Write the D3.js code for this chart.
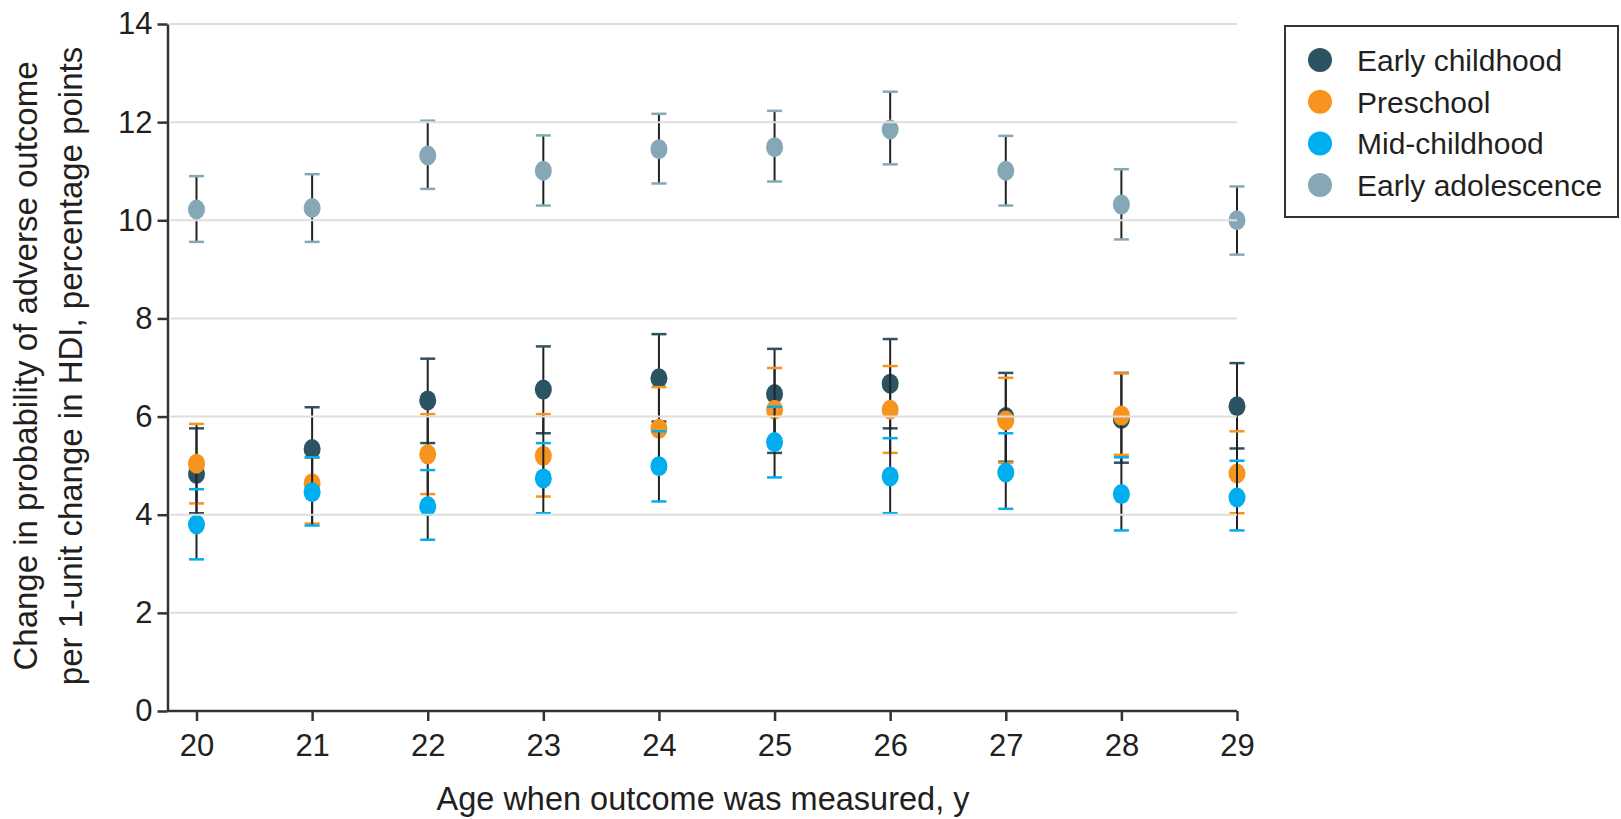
<!DOCTYPE html>
<html lang="en">

<head>
    <meta charset="UTF-8">
    <title>Change in probability of adverse outcome by age</title>
    <style>
        body {
            margin: 0;
            padding: 0;
            background: #fff;
        }

        svg {
            display: block;
        }

        text {
            font-family: "Liberation Sans", Arial, sans-serif;
            fill: #231f20;
        }
    </style>
</head>

<body>

    <svg width="1621" height="819"></svg>

    <script src="https://d3js.org/d3.v7.min.js"></script>
    <script>
        // Data (percentage points)
        const ages = [20, 21, 22, 23, 24, 25, 26, 27, 28, 29];
        const yTicks = [0, 2, 4, 6, 8, 10, 12, 14];

        const earlyChildhood = [4.83, 5.34, 6.33, 6.55, 6.78, 6.46, 6.67, 5.99, 5.95, 6.21];
        const earlyChildhoodLow = [4.03, 4.49, 5.46, 5.66, 5.90, 5.26, 5.76, 5.08, 5.06, 5.35];
        const earlyChildhoodHigh = [5.76, 6.19, 7.18, 7.43, 7.68, 7.38, 7.58, 6.89, 6.89, 7.09];

        const preschool = [5.04, 4.64, 5.23, 5.20, 5.75, 6.14, 6.14, 5.92, 6.02, 4.84];
        const preschoolLow = [4.23, 3.82, 4.42, 4.37, 4.93, 5.40, 5.26, 5.06, 5.22, 4.03];
        const preschoolHigh = [5.85, 5.16, 6.05, 6.05, 6.60, 6.99, 7.03, 6.79, 6.88, 5.70];

        const midChildhood = [3.80, 4.46, 4.17, 4.74, 4.99, 5.48, 4.78, 4.86, 4.42, 4.35];
        const midChildhoodLow = [3.09, 3.78, 3.49, 4.03, 4.27, 4.76, 4.03, 4.12, 3.68, 3.68];
        const midChildhoodHigh = [4.52, 5.17, 4.91, 5.46, 5.70, 6.20, 5.56, 5.66, 5.17, 5.10];

        const earlyAdolescence = [10.22, 10.25, 11.32, 11.01, 11.45, 11.49, 11.85, 11.01, 10.32, 10.00];
        const earlyAdolescenceLow = [9.56, 9.56, 10.64, 10.30, 10.75, 10.79, 11.14, 10.30, 9.61, 9.30];
        const earlyAdolescenceHigh = [10.90, 10.94, 12.03, 11.73, 12.17, 12.23, 12.62, 11.72, 11.04, 10.69];

        const seriesNames = ["Early childhood", "Preschool", "Mid-childhood", "Early adolescence"];
        const seriesColors = ["#2c5361", "#f7941e", "#00aeef", "#86a8b6"];

        const series = [
            { est: earlyChildhood, lo: earlyChildhoodLow, hi: earlyChildhoodHigh },
            { est: preschool, lo: preschoolLow, hi: preschoolHigh },
            { est: midChildhood, lo: midChildhoodLow, hi: midChildhoodHigh },
            { est: earlyAdolescence, lo: earlyAdolescenceLow, hi: earlyAdolescenceHigh }
        ].map((s, k) => ({
            name: seriesNames[k],
            color: seriesColors[k],
            points: ages.map((a, i) => ({ age: a, est: s.est[i], lo: s.lo[i], hi: s.hi[i] }))
        }));

        const svg = d3.select("svg");

        // plot frame
        const axisX = 167.5;
        const axisY = 711;
        const x = d3.scaleLinear().domain([20, 29]).range([196.5, 1237]);
        const y = d3.scaleLinear().domain([0, 14]).range([axisY, 24]);

        // y axis
        const yAxis = svg.append("g")
            .attr("transform", `translate(${axisX},0)`)
            .call(d3.axisLeft(y).tickValues(yTicks).tickSize(10).tickSizeOuter(0).tickPadding(5));

        // x axis
        const xAxis = svg.append("g")
            .attr("transform", `translate(0,${axisY})`)
            .call(d3.axisBottom(x).tickValues(ages).tickSize(10).tickSizeOuter(0).tickPadding(13));

        // extend x axis line back to the y axis
        xAxis.select(".domain").attr("d", `M${axisX},0H${x(29)}`);

        [yAxis, xAxis].forEach(g => {
            g.selectAll(".domain, .tick line").attr("stroke", "#333").attr("stroke-width", 2.5);
            g.selectAll("text").attr("font-size", 31).attr("fill", "#231f20")
                .style("font-family", '"Liberation Sans", Arial, sans-serif');
        });

        // error bars and points, one series at a time
        const capHalf = 7.5;
        series.forEach(s => {
            const g = svg.append("g");

            g.selectAll("line.whisker")
                .data(s.points)
                .enter()
                .append("line")
                .attr("class", "whisker")
                .attr("x1", d => x(d.age))
                .attr("x2", d => x(d.age))
                .attr("y1", d => y(d.lo))
                .attr("y2", d => y(d.hi))
                .attr("stroke", "#222")
                .attr("stroke-width", 2);

            ["lo", "hi"].forEach(key => {
                g.selectAll("line.cap-" + key)
                    .data(s.points)
                    .enter()
                    .append("line")
                    .attr("class", "cap-" + key)
                    .attr("x1", d => x(d.age) - capHalf)
                    .attr("x2", d => x(d.age) + capHalf)
                    .attr("y1", d => y(d[key]))
                    .attr("y2", d => y(d[key]))
                    .attr("stroke", s.color)
                    .attr("stroke-width", 2.5);
            });

            g.selectAll("ellipse")
                .data(s.points)
                .enter()
                .append("ellipse")
                .attr("cx", d => x(d.age))
                .attr("cy", d => y(d.est))
                .attr("rx", 8.5)
                .attr("ry", 10)
                .attr("fill", s.color);
        });

        // gridlines sit on top of the marks in the original
        svg.append("g")
            .selectAll("line")
            .data(yTicks.filter(t => t > 0))
            .enter()
            .append("line")
            .attr("x1", axisX + 1.5)
            .attr("x2", x(29))
            .attr("y1", d => y(d))
            .attr("y2", d => y(d))
            .attr("stroke", "#dedede")
            .attr("stroke-width", 2);

        // axis titles
        svg.append("text")
            .attr("x", 703)
            .attr("y", 810)
            .attr("text-anchor", "middle")
            .attr("font-size", 32.5)
            .text("Age when outcome was measured, y");

        const yTitle = svg.append("text")
            .attr("transform", "translate(0,366) rotate(-90)")
            .attr("text-anchor", "middle")
            .attr("font-size", 33);
        yTitle.append("tspan").attr("x", 0).attr("y", 37).text("Change in probability of adverse outcome");
        yTitle.append("tspan").attr("x", 0).attr("y", 82).text("per 1-unit change in HDI, percentage points");

        // legend
        const legend = svg.append("g");
        legend.append("rect")
            .attr("x", 1285)
            .attr("y", 26)
            .attr("width", 333)
            .attr("height", 191)
            .attr("fill", "none")
            .attr("stroke", "#333")
            .attr("stroke-width", 2);

        const legendRows = legend.selectAll("g.row")
            .data(series)
            .enter()
            .append("g")
            .attr("class", "row")
            .attr("transform", (d, i) => `translate(1320,${60 + i * 41.7})`);

        legendRows.append("circle").attr("r", 12).attr("fill", d => d.color);
        legendRows.append("text")
            .attr("x", 37)
            .attr("dy", "0.36em")
            .attr("font-size", 30)
            .text(d => d.name);
    </script>

</body>

</html>
